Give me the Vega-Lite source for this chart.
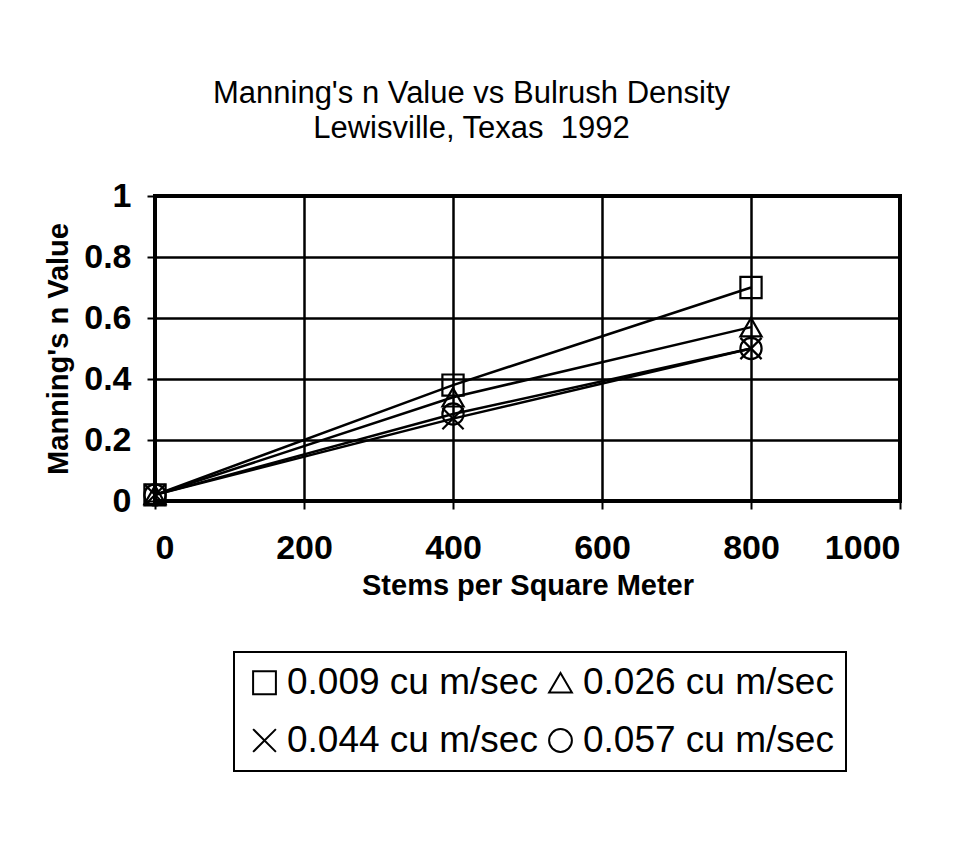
{
  "$schema": "https://vega.github.io/schema/vega-lite/v6.json",
  "width": 745,
  "height": 305,
  "autosize": {"type": "none"},
  "padding": {"left": 155, "top": 196, "right": 79, "bottom": 348},
  "background": "white",
  "title": {
    "text": ["Manning's n Value vs Bulrush Density", "Lewisville, Texas\u00a0 1992"],
    "font": "Liberation Sans",
    "fontSize": 31,
    "fontWeight": "normal",
    "color": "black",
    "anchor": "middle",
    "dx": -56,
    "offset": 34,
    "lineHeight": 35
  },
  "data": {
    "values": [
      {"series": "0.009 cu m/sec", "stems": 0, "n": 0.02},
      {"series": "0.009 cu m/sec", "stems": 400, "n": 0.38},
      {"series": "0.009 cu m/sec", "stems": 800, "n": 0.70},
      {"series": "0.026 cu m/sec", "stems": 0, "n": 0.02},
      {"series": "0.026 cu m/sec", "stems": 400, "n": 0.34},
      {"series": "0.026 cu m/sec", "stems": 800, "n": 0.57},
      {"series": "0.044 cu m/sec", "stems": 0, "n": 0.02},
      {"series": "0.044 cu m/sec", "stems": 400, "n": 0.27},
      {"series": "0.044 cu m/sec", "stems": 800, "n": 0.50},
      {"series": "0.057 cu m/sec", "stems": 0, "n": 0.02},
      {"series": "0.057 cu m/sec", "stems": 400, "n": 0.285},
      {"series": "0.057 cu m/sec", "stems": 800, "n": 0.50}
    ]
  },
  "encoding": {
    "x": {
      "field": "stems",
      "type": "quantitative",
      "scale": {"domain": [0, 1000], "nice": false},
      "axis": {"values": [0, 200, 400, 600, 800, 1000], "title": "Stems per Square Meter", "format": "d"}
    },
    "y": {
      "field": "n",
      "type": "quantitative",
      "scale": {"domain": [0, 1], "nice": false},
      "axis": {"values": [0, 0.2, 0.4, 0.6, 0.8, 1], "title": "Manning's n Value", "format": "~g"}
    }
  },
  "layer": [
    {
      "mark": {"type": "line", "color": "black", "strokeWidth": 2.5},
      "encoding": {"detail": {"field": "series"}}
    },
    {
      "mark": {"type": "point", "filled": false, "color": "black", "strokeWidth": 2.2, "size": 450, "opacity": 1},
      "encoding": {
        "shape": {
          "field": "series",
          "type": "nominal",
          "scale": {
            "domain": ["0.009 cu m/sec", "0.026 cu m/sec", "0.044 cu m/sec", "0.057 cu m/sec"],
            "range": ["square", "triangle-up", "M-1,-1L1,1M-1,1L1,-1", "circle"]
          },
          "legend": {
            "orient": "none",
            "legendX": 79,
            "legendY": 456,
            "direction": "horizontal",
            "columns": 2,
            "title": null,
            "labelFont": "Liberation Sans",
            "labelFontSize": 37,
            "labelColor": "black",
            "labelLimit": 400,
            "labelOffset": 4,
            "symbolSize": 520,
            "symbolStrokeWidth": 2,
            "symbolStrokeColor": "black",
            "symbolFillColor": "transparent",
            "strokeColor": "black",
            "fillColor": "white",
            "padding": 12,
            "columnPadding": 4,
            "rowPadding": 20
          }
        }
      }
    }
  ],
  "config": {
    "view": {"stroke": "black", "strokeWidth": 4},
    "legend": {"strokeWidth": 2},
    "axis": {
      "grid": true,
      "gridColor": "black",
      "gridWidth": 2.5,
      "gridOpacity": 1,
      "domain": false,
      "tickColor": "black",
      "tickSize": 8,
      "tickWidth": 2,
      "labelFont": "Liberation Sans",
      "labelFontSize": 34,
      "labelFontWeight": "bold",
      "labelColor": "black",
      "titleFont": "Liberation Sans",
      "titleFontSize": 29,
      "titleFontWeight": "bold",
      "titleColor": "black"
    },
    "axisX": {"labelPadding": 22, "titlePadding": 6},
    "axisY": {"labelPadding": 16, "titlePadding": 10}
  }
}
